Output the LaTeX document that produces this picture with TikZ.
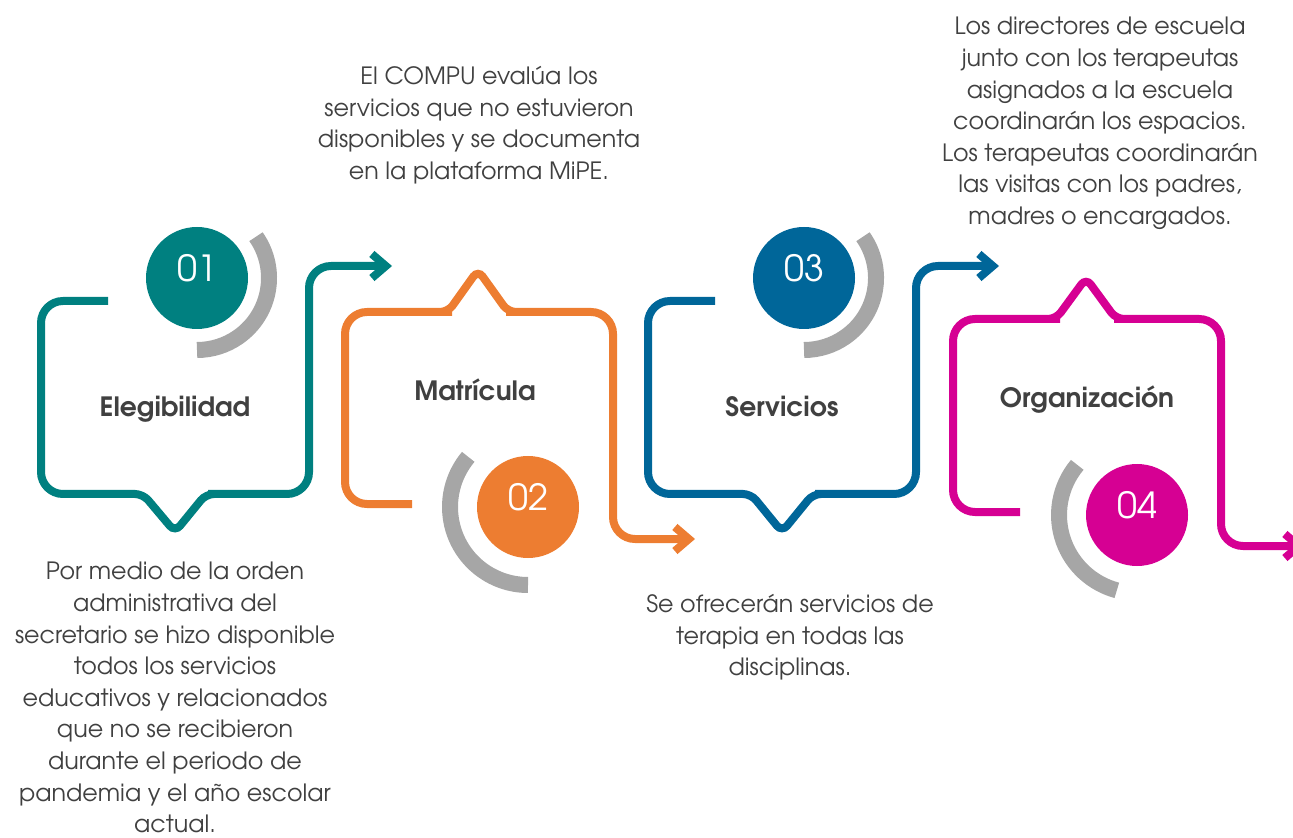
\documentclass[tikz,border=0pt]{standalone}
\usepackage{fontspec}
\setmainfont{texgyreadventor}[Extension=.otf, UprightFont=*-regular, BoldFont=*-bold]
\usepackage{tikz}
\usetikzlibrary{arrows.meta}
\definecolor{teal}{RGB}{0,128,128}
\definecolor{orangeb}{RGB}{237,125,49}
\definecolor{blueb}{RGB}{0,102,153}
\definecolor{magentab}{RGB}{214,0,147}
\definecolor{arcgray}{RGB}{166,166,166}
\definecolor{txtgray}{RGB}{64,64,64}
\tikzset{%
    bubble/.style={line width=4pt, rounded corners=11pt, line cap=butt},
    flow/.style={-{Straight Barb[length=7pt,width=12pt,line join=miter,line cap=butt]}},
    numcirc/.style={circle, fill=#1, minimum size=51pt, inner sep=0pt},
    numtxt/.style={text=white, inner sep=0pt, font=\fontsize{18}{20}\selectfont},
    grayarc/.style={arcgray, line width=8pt, line cap=butt},
    stage/.style={text=txtgray, anchor=base, inner sep=0pt, font=\bfseries\fontsize{13.3}{15}\selectfont},
    note/.style={text=txtgray, align=center, anchor=north, inner sep=0pt, font=\fontsize{11.9}{15.8}\selectfont}
}

\begin{document}
\begin{tikzpicture}[x=0.5pt,y=-0.5pt]
\useasboundingbox (0,0) rectangle (1293,838);

\draw[bubble,teal,flow] (108,301) -- (41,301) -- (41,494) -- (110,494) [rounded corners=4pt] -- (125,494) -- (143,494) -- (175,532) -- (206,494) -- (216,494) [rounded corners=11pt] -- (230,494) -- (309,494) -- (309,266) -- (392,266);
\draw[bubble,orangeb,flow] (412,504) -- (345,504) -- (345,312) -- (430,312) [rounded corners=4pt] -- (440,312) -- (448,312) -- (478,270) -- (508,312) -- (518,312) [rounded corners=11pt] -- (528,312) -- (613,312) -- (613,539) -- (695,539);
\draw[bubble,blueb,flow] (715,301) -- (648,301) -- (648,494) -- (717,494) [rounded corners=4pt] -- (732,494) -- (751,494) -- (782,532) -- (813,494) -- (823,494) [rounded corners=11pt] -- (837,494) -- (916,494) -- (916,266) -- (999,266);
\draw[bubble,magentab,flow] (1020,512) -- (953,512) -- (953,319) -- (1038,319) [rounded corners=4pt] -- (1048,319) -- (1056,319) -- (1086,278) -- (1116,319) -- (1126,319) [rounded corners=11pt] -- (1136,319) -- (1221,319) -- (1221,546) -- (1305,546);

\node[numcirc=teal] (c1) at (197,278) {};
\node[numcirc=orangeb] (c2) at (528,507) {};
\node[numcirc=blueb] (c3) at (804,278) {};
\node[numcirc=magentab] (c4) at (1137,515) {};

\draw[grayarc] (c1.center) ++(35:36pt) arc[start angle=35, end angle=-90, radius=36pt];
\draw[grayarc] (c2.center) ++(140:39pt) arc[start angle=140, end angle=270, radius=39pt];
\draw[grayarc] (c3.center) ++(35:36pt) arc[start angle=35, end angle=-90, radius=36pt];
\draw[grayarc] (c4.center) ++(140:39pt) arc[start angle=140, end angle=255, radius=39pt];

\node[numtxt] (n1) at ([yshift=5pt]c1.center) {01};
\node[numtxt] (n2) at ([yshift=5pt]c2.center) {02};
\node[numtxt] (n3) at ([yshift=5pt]c3.center) {03};
\node[numtxt] (n4) at ([yshift=5pt]c4.center) {04};

\node[stage] (s1) at (175,417) {Elegibilidad};
\node[stage] (s2) at (475,401) {Matrícula};
\node[stage] (s3) at (782,417) {Servicios};
\node[stage] (s4) at (1087,408) {Organización};

\node[note] (d1) at (175,562) {Por medio de la orden\\administrativa del\\secretario se hizo disponible\\todos los servicios\\educativos y relacionados\\que no se recibieron\\durante el periodo de\\pandemia y el año escolar\\actual.};
\node[note] (d2) at (479,66) {El COMPU evalúa los\\servicios que no estuvieron\\disponibles y se documenta\\en la plataforma MiPE.};
\node[note] (d3) at (1100,17) {Los directores de escuela\\junto con los terapeutas\\asignados a la escuela\\coordinarán los espacios.\\Los terapeutas coordinarán\\las visitas con los padres,\\madres o encargados.};
\node[note] (d4) at (790,594) {Se ofrecerán servicios de\\terapia en todas las\\disciplinas.};
\end{tikzpicture}
\end{document}
